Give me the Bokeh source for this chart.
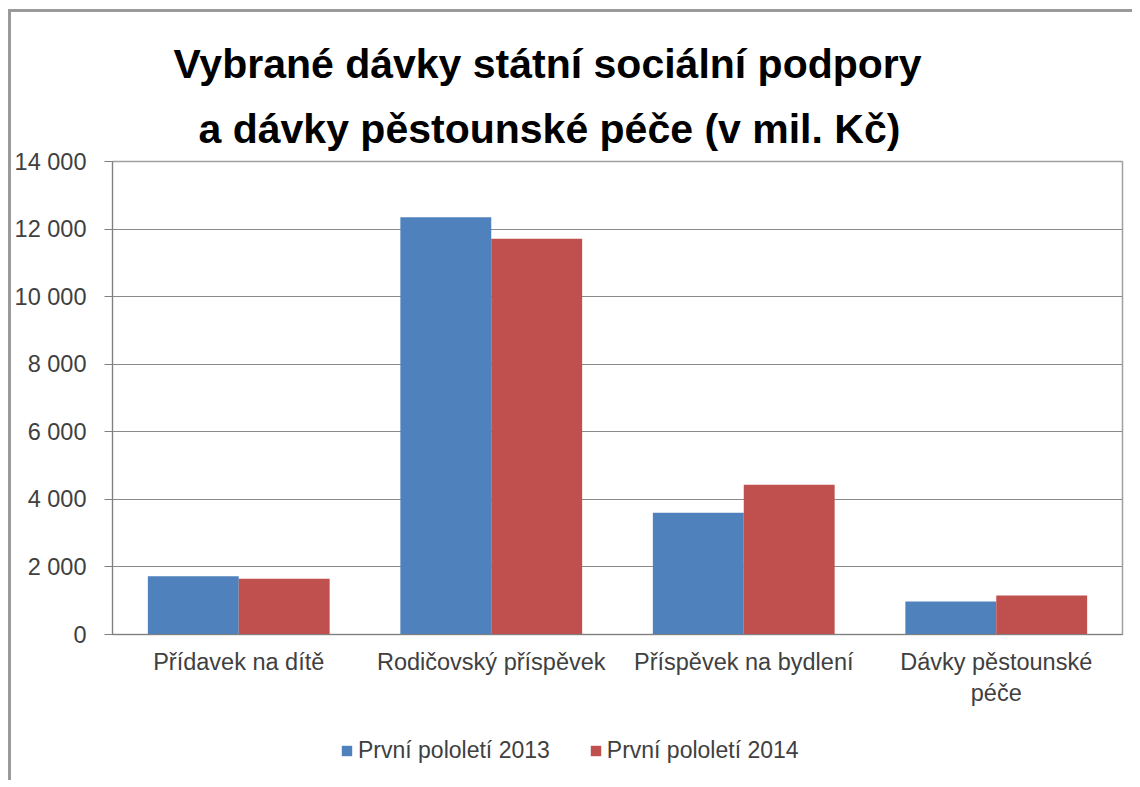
from bokeh.plotting import figure
from bokeh.layouts import column
from bokeh.models import (FactorRange, Range1d, FixedTicker, Title, Legend, LegendItem,
                          ColumnDataSource)
from bokeh.transform import dodge
from bokeh.embed import file_html
from bokeh.resources import INLINE

categories = ["Přídavek na dítě", "Rodičovský příspěvek", "Příspěvek na bydlení", "Dávky pěstounské\npéče"]
series_names = ["První pololetí 2013", "První pololetí 2014"]
values_2013 = [1725, 12350, 3600, 975]
values_2014 = [1650, 11710, 4430, 1155]
y_ticks = [0, 2000, 4000, 6000, 8000, 10000, 12000, 14000]
y_tick_labels = ["0", "2 000", "4 000", "6 000", "8 000", "10 000", "12 000", "14 000"]
title_lines = ["Vybrané dávky státní sociální podpory", "a dávky pěstounské péče (v mil. Kč)"]

FONT = "Liberation Sans"
TEXT = "#404040"
BLUE = "#4F81BD"
RED = "#C0504D"
colors = [BLUE, RED]
NAN = float("nan")

src = ColumnDataSource(dict(cat=categories, v13=values_2013, v14=values_2014))

p = figure(x_range=FactorRange(*categories, range_padding=0), y_range=Range1d(0, 14000),
           width=1121, height=708, output_backend="svg", toolbar_location=None,
           min_border_left=100, min_border_right=10, min_border_top=149, min_border_bottom=86)
p.title = None

p.vbar(x=dodge("cat", -0.18, range=p.x_range), top="v13", width=0.36, source=src,
       fill_color=colors[0], line_color=None)
p.vbar(x=dodge("cat", 0.18, range=p.x_range), top="v14", width=0.36, source=src,
       fill_color=colors[1], line_color=None)

p.outline_line_color = "#a0a0a0"
p.outline_line_width = 1.5
p.xgrid.grid_line_color = None
p.ygrid.grid_line_color = "#8a8a8a"
p.ygrid.grid_line_width = 1.2

p.yaxis.ticker = FixedTicker(ticks=y_ticks)
p.yaxis.major_label_overrides = {t: l for t, l in zip(y_ticks, y_tick_labels)}
p.yaxis.axis_line_color = "#7f7f7f"
p.yaxis.major_tick_line_color = "#7f7f7f"
p.yaxis.major_tick_out = 8
p.yaxis.major_tick_in = 0
p.yaxis.minor_tick_line_color = None
p.yaxis.major_label_standoff = 18
p.yaxis.major_label_text_font = FONT
p.yaxis.major_label_text_font_size = "23.5px"
p.yaxis.major_label_text_color = TEXT

p.xaxis.axis_line_color = "#7f7f7f"
p.xaxis.major_tick_line_color = None
p.xaxis.minor_tick_line_color = None
p.xaxis.major_label_standoff = 8
p.xaxis.major_label_text_font = FONT
p.xaxis.major_label_text_font_size = "23.5px"
p.xaxis.major_label_text_color = TEXT

t2 = Title(text=title_lines[1], align="left", offset=86, text_font=FONT,
           text_font_size="41px", text_font_style="bold", text_color="black", standoff=19)
t1 = Title(text=title_lines[0], align="left", offset=61, text_font=FONT,
           text_font_size="41px", text_font_style="bold", text_color="black", standoff=16)
p.add_layout(t2, "above")
p.add_layout(t1, "above")

# legend strip (separate small figure below the chart); NaN rows draw nothing,
# they only give the legend glyphs their colours
lg = figure(width=1121, height=60, output_backend="svg", toolbar_location=None,
            x_axis_type=None, y_axis_type=None, min_border=0,
            x_range=Range1d(0, 1), y_range=Range1d(0, 1))
lg.title = None
lg.outline_line_color = None
lg.grid.grid_line_color = None
items = []
for name, col in zip(series_names, colors):
    r = lg.vbar(x=[NAN], top=[NAN], width=0.1, fill_color=col, line_color=None)
    items.append(LegendItem(label=name, renderers=[r]))
legend = Legend(items=items, orientation="horizontal", location=(228, 16), padding=0, margin=0,
                spacing=39, glyph_width=13, glyph_height=13, label_standoff=5,
                label_text_font=FONT, label_text_font_size="23px", label_text_color=TEXT,
                border_line_color=None, background_fill_alpha=0)
lg.add_layout(legend, "center")

layout = column(p, lg, spacing=0)
layout.styles = {"margin-left": "8px", "margin-top": "9px",
                 "border-left": "3px solid #9a9a9a", "border-top": "3px solid #9a9a9a"}

open("out.html", "w").write(file_html(layout, INLINE))
